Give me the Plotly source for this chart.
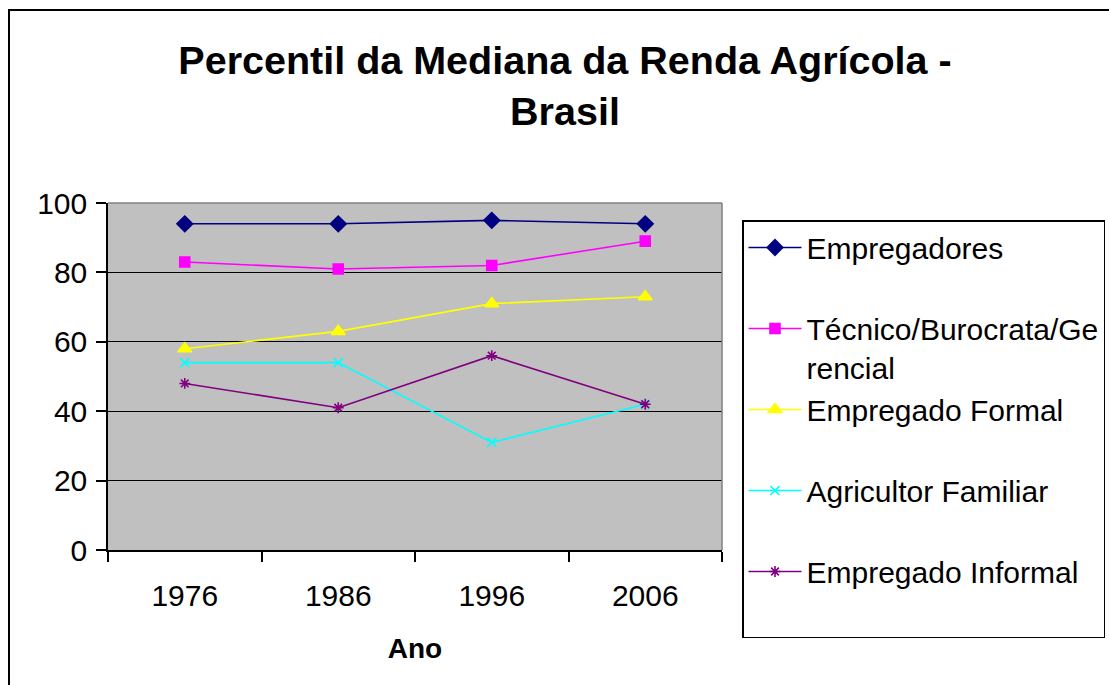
import plotly.graph_objects as go

anos = ["1976", "1986", "1996", "2006"]
empregadores = [94, 94, 95, 94]
tecnico = [83, 81, 82, 89]
empregado_formal = [58, 63, 71, 73]
agricultor_familiar = [54, 54, 31, 42]
empregado_informal = [48, 41, 56, 42]

series = [
    ("Empregadores", empregadores, "#000080", "diamond", 12),
    ("Técnico/Burocrata/Ge<br>rencial", tecnico, "#FF00FF", "square", 10),
    ("Empregado Formal", empregado_formal, "#FFFF00", "triangle-up", 12),
    ("Agricultor Familiar", agricultor_familiar, "#00FFFF", "x-thin-open", 9),
    ("Empregado Informal", empregado_informal, "#800080", "asterisk-open", 9),
]

W, H = 1109, 685
L, R, T, B = 108, 722, 203, 550
pw, ph = R - L, B - T

fig = go.Figure()
for i, (name, vals, col, sym, sz) in enumerate(series):
    legend_text = name if "<br>" in name else name + "<br> "
    fig.add_trace(go.Scatter(
        x=anos, y=vals, name=legend_text, mode="lines+markers",
        line=dict(color=col, width=1.6),
        marker=dict(symbol=sym, size=sz, color=col, line=dict(color=col, width=1.6)),
        legendgroup=f"g{i}",
    ))

font_family = "Liberation Sans, Arial, sans-serif"

fig.update_layout(
    width=W, height=H,
    margin=dict(l=L, r=W - R, t=T, b=H - B, pad=0, autoexpand=False),
    paper_bgcolor="white",
    plot_bgcolor="#C0C0C0",
    font=dict(family=font_family, size=30, color="black"),
    title=dict(
        text="<b>Percentil da Mediana da Renda Agrícola -<br>Brasil</b>",
        font=dict(size=39.5, family=font_family, color="black"),
        xref="container", yref="container",
        x=565 / W, xanchor="center", y=1 - 74 / H, yanchor="top",
    ),
    showlegend=True,
    legend=dict(
        x=(742 - L) / pw, xanchor="left",
        y=(B - 220) / ph, yanchor="top",
        bordercolor="black", borderwidth=1.5, bgcolor="white",
        font=dict(size=30, family=font_family),
        valign="top", itemwidth=53,
        traceorder="grouped", tracegroupgap=0,
        maxheight=600,
    ),
    xaxis=dict(
        type="category", range=[-0.5, 3.5],
        showline=True, linecolor="black", linewidth=1.5,
        ticks="outside", tickson="boundaries", ticklen=10, tickcolor="black", tickwidth=1.5,
        showgrid=False, ticklabelstandoff=18,
        title=dict(text="<b>Ano</b>", font=dict(size=28, family=font_family), standoff=28),
        tickfont=dict(size=30),
    ),
    yaxis=dict(
        range=[0, 100], dtick=20, tick0=0,
        showline=True, linecolor="black", linewidth=1.5,
        ticks="outside", ticklen=10, tickcolor="black", tickwidth=1.5,
        showgrid=True, gridcolor="black", gridwidth=1.2, zeroline=False,
        ticklabelstandoff=3,
        tickfont=dict(size=30),
    ),
    shapes=[
        dict(type="rect", xref="paper", yref="paper",
             x0=(9 - L) / pw, x1=(1130 - L) / pw,
             y0=(B - 720) / ph, y1=(B - 10) / ph,
             line=dict(color="black", width=2), fillcolor="rgba(0,0,0,0)", layer="below"),
        dict(type="line", xref="paper", yref="paper", x0=0, x1=1, y0=1, y1=1,
             line=dict(color="#808080", width=1.5), layer="above"),
        dict(type="line", xref="paper", yref="paper", x0=1, x1=1, y0=0, y1=1,
             line=dict(color="#808080", width=1.5), layer="above"),
    ],
)

fig.write_html("out.html", config={"displayModeBar": False},
               post_script="document.body.style.margin='0';")
